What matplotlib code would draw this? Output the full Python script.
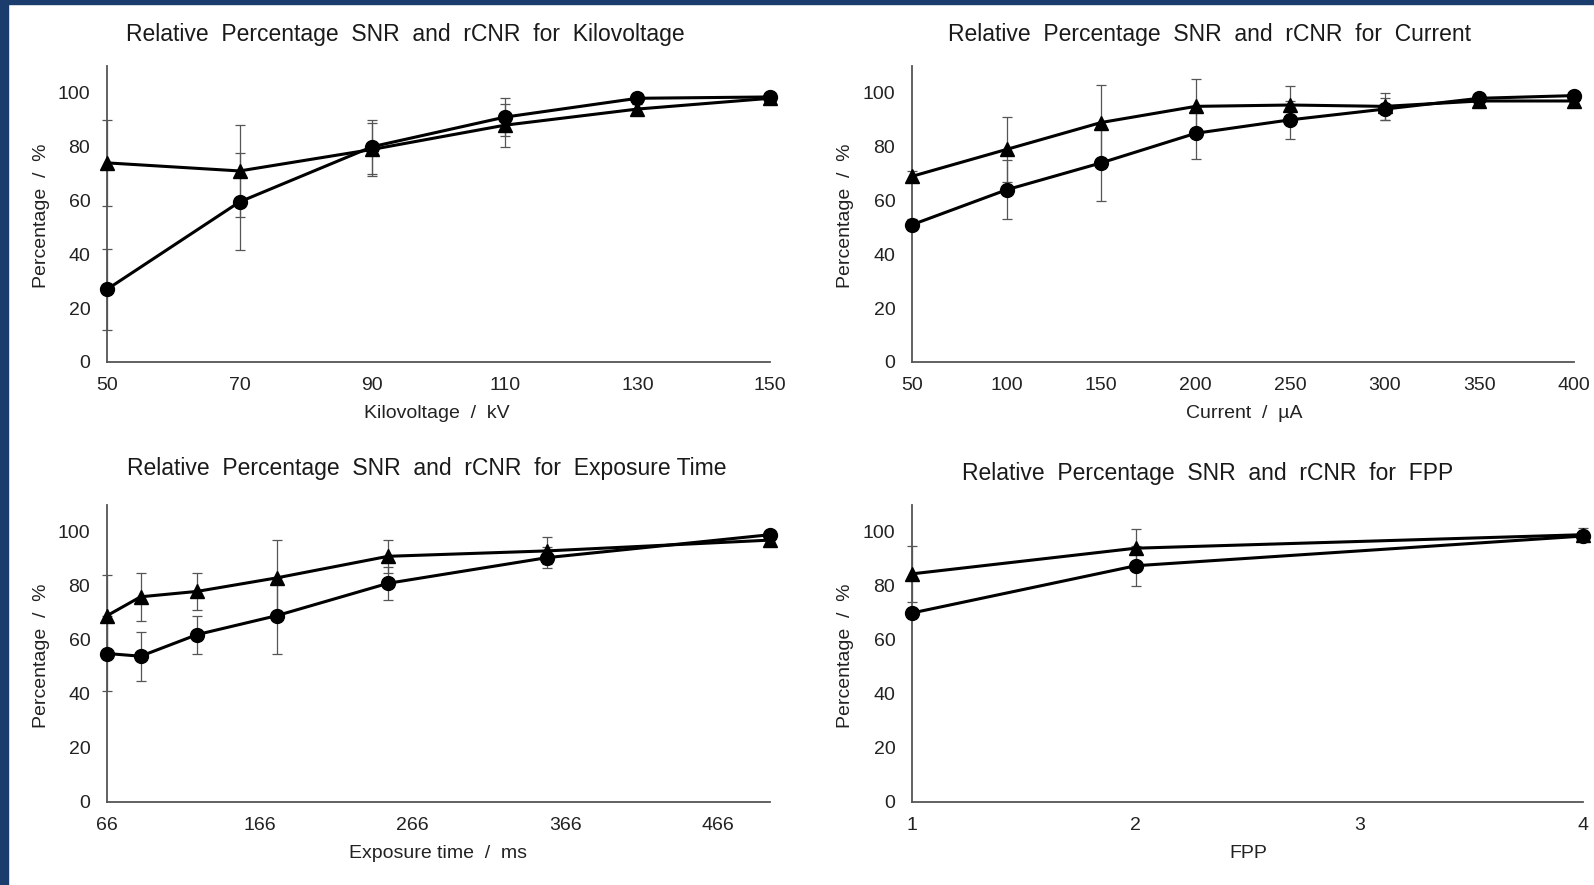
import matplotlib
matplotlib.use('Agg')
import matplotlib.pyplot as plt
from matplotlib.patches import Rectangle

plt.rcParams['font.family'] = ['Liberation Sans', 'DejaVu Sans']

# ---- data ----
kv = [50, 70, 90, 110, 130, 150]
kv_tri = [74, 71, 79, 88, 94, 98]
kv_tri_err = [16, 17, 10, 8, 2, 1]
kv_circ = [27, 59.5, 80, 91, 98, 98.5]
kv_circ_err = [15, 18, 10, 7, 2, 1]

cur = [50, 100, 150, 200, 250, 300, 350, 400]
cur_tri = [69, 79, 89, 95, 95.5, 95, 97, 97]
cur_tri_err = [2, 12, 14, 10, 7, 5, 1, 1]
cur_circ = [51, 64, 74, 85, 90, 94, 98, 99]
cur_circ_err = [2, 11, 14, 9.5, 7, 4, 1, 1]

exp_t = [66, 88, 125, 177, 250, 354, 500]
exp_tri = [69, 76, 78, 83, 91, 93, 97]
exp_tri_err = [15, 9, 7, 14, 6, 5, 1]
exp_circ = [55, 54, 62, 69, 81, 90.5, 99]
exp_circ_err = [14, 9, 7, 14, 6, 4, 1]

fpp = [1, 2, 4]
fpp_tri = [84.5, 94, 99]
fpp_tri_err = [10.5, 7, 2.5]
fpp_circ = [70, 87.5, 98.5]
fpp_circ_err = [1, 7.5, 2]

titles = ['Relative  Percentage  SNR  and  rCNR  for  Kilovoltage',
          'Relative  Percentage  SNR  and  rCNR  for  Current',
          'Relative  Percentage  SNR  and  rCNR  for  Exposure Time',
          'Relative  Percentage  SNR  and  rCNR  for  FPP']
xlabels = ['Kilovoltage  /  kV', 'Current  /  \u00b5A', 'Exposure time  /  ms', 'FPP']
xticks = [[50, 70, 90, 110, 130, 150],
          [50, 100, 150, 200, 250, 300, 350, 400],
          [66, 166, 266, 366, 466],
          [1, 2, 3, 4]]
xlims = [(50, 150), (50, 400), (66, 500), (1, 4)]

W, H = 1594, 885
fig = plt.figure(figsize=(W / 100, H / 100), dpi=100)
fig.patch.set_facecolor('white')

# dark blue slide border (left and top)
fig.patches.append(Rectangle((0, 0), 8 / W, 1, transform=fig.transFigure,
                             color='#1b3d6d', zorder=0))
fig.patches.append(Rectangle((0, 1 - 4 / H), 1, 4 / H, transform=fig.transFigure,
                             color='#1b3d6d', zorder=0))

# axes boxes in pixels: left, right, top, bottom
boxes = [(107, 770, 66, 362), (912, 1574, 66, 362),
         (107, 770, 505, 802), (912, 1583, 505, 802)]
title_pos = [(405, 34), (1210, 34), (427, 468), (1208, 473)]
xlabel_pos = [(437, 414), (1244, 414), (438, 854), (1248, 854)]
ylabel_x = [42, 846, 42, 846]

series = [(kv, kv_tri, kv_tri_err, kv_circ, kv_circ_err),
          (cur, cur_tri, cur_tri_err, cur_circ, cur_circ_err),
          (exp_t, exp_tri, exp_tri_err, exp_circ, exp_circ_err),
          (fpp, fpp_tri, fpp_tri_err, fpp_circ, fpp_circ_err)]

for i, (x, tri, tri_e, circ, circ_e) in enumerate(series):
    l, r, t, b = boxes[i]
    ax = fig.add_axes([l / W, 1 - b / H, (r - l) / W, (b - t) / H])
    for y, e, m in [(tri, tri_e, '^'), (circ, circ_e, 'o')]:
        ax.errorbar(x, y, yerr=e, fmt='none', ecolor='#555555', elinewidth=0.9,
                    capsize=3.5, capthick=0.9, zorder=2, clip_on=False)
        ax.plot(x, y, color='black', lw=2.2, marker=m, markersize=10 if m == 'o' else 10.5,
                zorder=3, clip_on=False)
    ax.set_xlim(*xlims[i])
    ax.set_ylim(0, 110)
    ax.set_xticks(xticks[i])
    ax.set_yticks([0, 20, 40, 60, 80, 100])
    ax.tick_params(length=0, labelsize=14, colors='#222222')
    ax.tick_params(axis='x', pad=11)
    ax.tick_params(axis='y', pad=12)
    for s in ['top', 'right']:
        ax.spines[s].set_visible(False)
    for s in ['left', 'bottom']:
        ax.spines[s].set_color('#555555')
        ax.spines[s].set_linewidth(1.3)

    tx, ty = title_pos[i]
    fig.text(tx / W, 1 - ty / H, titles[i], ha='center', va='center', fontsize=16.5,
             color='#1a1a1a')
    xx, xy = xlabel_pos[i]
    fig.text(xx / W, 1 - xy / H, xlabels[i], ha='center', va='center', fontsize=14,
             color='#222222')
    ycen = (t + b) / 2 + 2
    fig.text(ylabel_x[i] / W, 1 - ycen / H, 'Percentage  /  %', rotation=90,
             ha='center', va='center', fontsize=14, color='#222222')

fig.savefig('out.png', dpi=100, facecolor='white')
